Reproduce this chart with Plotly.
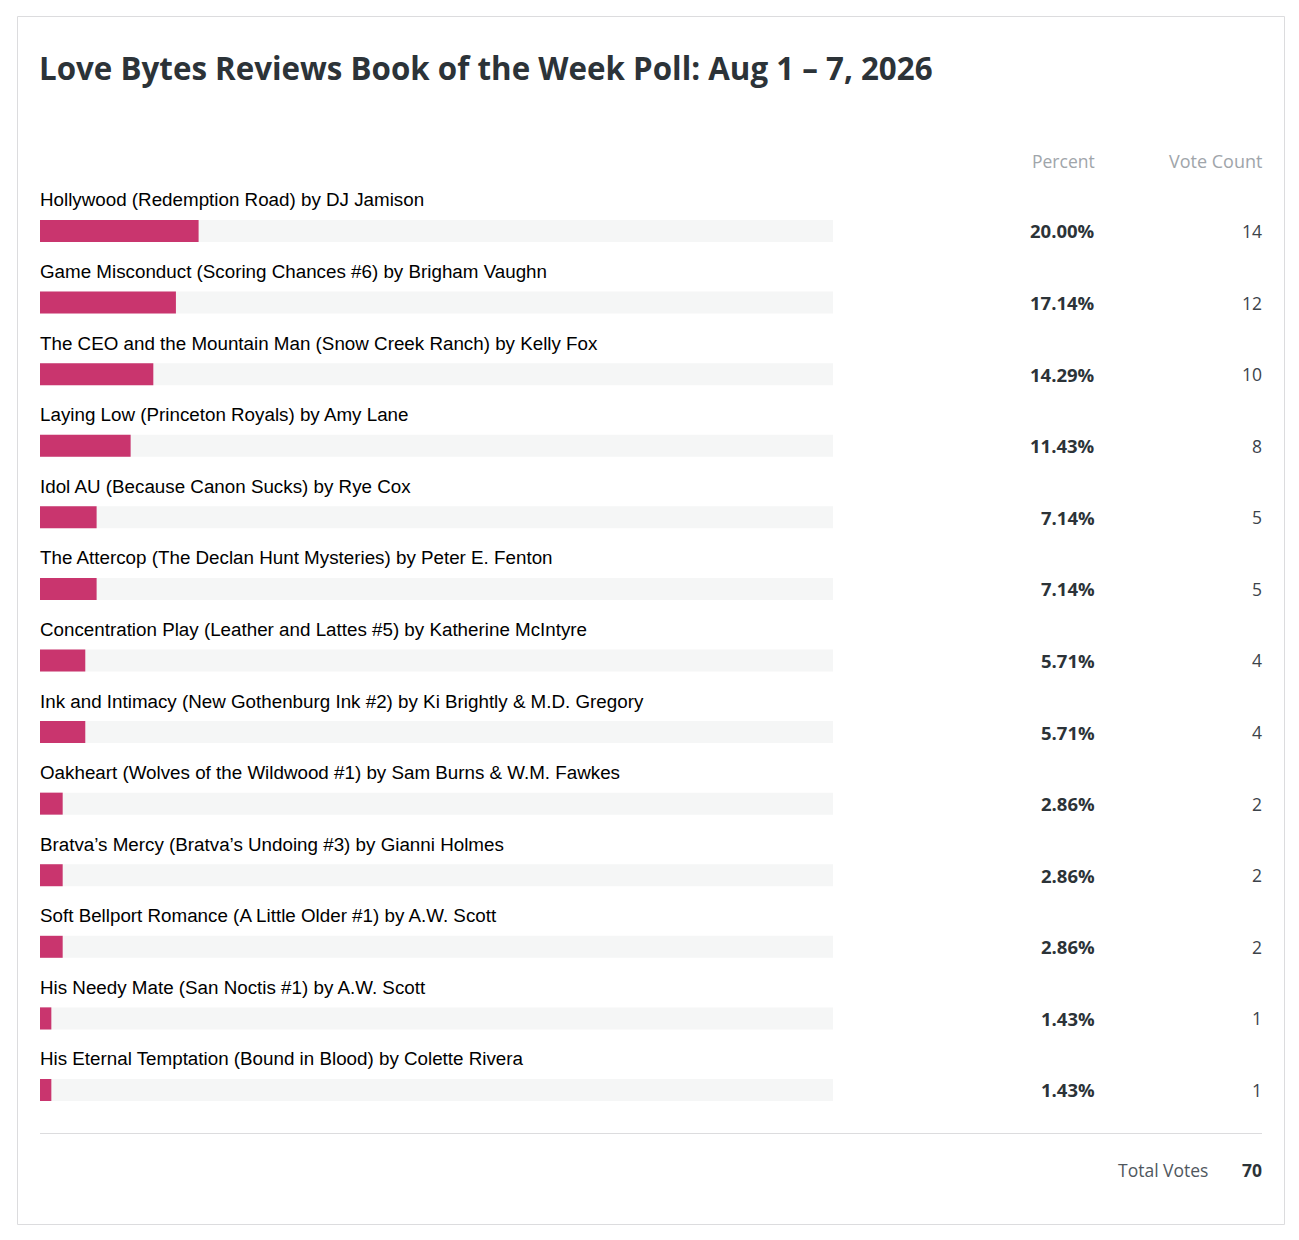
import plotly.graph_objects as go

# page is drawn with an 8px body margin, so the figure is 8px smaller
OFF = 8
W = 1299 - OFF
H = 1240 - OFF

title = "Love Bytes Reviews Book of the Week Poll: Aug 1 – 7, 2026"

books = [
    "Hollywood (Redemption Road) by DJ Jamison",
    "Game Misconduct (Scoring Chances #6) by Brigham Vaughn",
    "The CEO and the Mountain Man (Snow Creek Ranch) by Kelly Fox",
    "Laying Low (Princeton Royals) by Amy Lane",
    "Idol AU (Because Canon Sucks) by Rye Cox",
    "The Attercop (The Declan Hunt Mysteries) by Peter E. Fenton",
    "Concentration Play (Leather and Lattes #5) by Katherine McIntyre",
    "Ink and Intimacy (New Gothenburg Ink #2) by Ki Brightly & M.D. Gregory",
    "Oakheart (Wolves of the Wildwood #1) by Sam Burns & W.M. Fawkes",
    "Bratva’s Mercy (Bratva’s Undoing #3) by Gianni Holmes",
    "Soft Bellport Romance (A Little Older #1) by A.W. Scott",
    "His Needy Mate (San Noctis #1) by A.W. Scott",
    "His Eternal Temptation (Bound in Blood) by Colette Rivera",
]
percents = [20.00, 17.14, 14.29, 11.43, 7.14, 7.14, 5.71, 5.71, 2.86, 2.86, 2.86, 1.43, 1.43]
votes = [14, 12, 10, 8, 5, 5, 4, 4, 2, 2, 2, 1, 1]
total_votes = 70

BAR_COLOR = "#c9356e"
TRACK_COLOR = "#f5f6f6"
DARK = "#2c3338"
GREY = "#a0a5aa"

# pixel geometry in page coords (top-down)
row0 = 231.0
row_step = 71.58
n = len(books)
y_top = row0 - 0.5 * row_step
y_bot = row0 + (n - 0.5) * row_step
x_left = 40
x_track = 833

def px(x):
    return (x - OFF) / W

def py(y):
    return 1 - (y - OFF) / H

rows = list(range(n))
bar_w = 22 / row_step

fig = go.Figure()
fig.add_trace(go.Bar(
    y=rows,
    x=[100] * n,
    orientation="h",
    width=bar_w,
    marker_color=TRACK_COLOR,
    marker_line_width=0,
    hoverinfo="skip",
))
fig.add_trace(go.Bar(
    y=rows,
    x=percents,
    orientation="h",
    width=bar_w,
    marker_color=BAR_COLOR,
    marker_line_width=0,
))

annotations = []
label_off = 31 / row_step
for i, (name, p, v) in enumerate(zip(books, percents, votes)):
    annotations.append(dict(
        x=0, y=i - label_off, xref="x", yref="y", xshift=-2,
        text=name, showarrow=False, xanchor="left", yanchor="middle",
        font=dict(family="Liberation Sans, Arial, sans-serif", size=18.8, color="#000000"),
    ))
    annotations.append(dict(
        x=px(1095), y=i, xref="paper", yref="y", xshift=2,
        text="<b>{:.2f}%</b>".format(p), showarrow=False, xanchor="right", yanchor="middle",
        font=dict(family="Open Sans, sans-serif", size=18.5, color=DARK),
    ))
    annotations.append(dict(
        x=px(1262), y=i, xref="paper", yref="y", xshift=2,
        text=str(v), showarrow=False, xanchor="right", yanchor="middle",
        font=dict(family="Open Sans, sans-serif", size=17.5, color="#3c434a"),
    ))

annotations += [
    dict(x=px(40), y=py(68), xref="paper", yref="paper", text="<b>" + title + "</b>",
         showarrow=False, xanchor="left", yanchor="middle", xshift=-3,
         font=dict(family="Open Sans, sans-serif", size=31.3, color=DARK)),
    dict(x=px(1095), y=py(161), xref="paper", yref="paper", text="Percent", xshift=2,
         showarrow=False, xanchor="right", yanchor="middle",
         font=dict(family="Open Sans, sans-serif", size=17.5, color=GREY)),
    dict(x=px(1262), y=py(161), xref="paper", yref="paper", text="Vote Count", xshift=2,
         showarrow=False, xanchor="right", yanchor="middle",
         font=dict(family="Open Sans, sans-serif", size=18, color=GREY)),
    dict(x=px(1208), y=py(1170), xref="paper", yref="paper", text="Total Votes", xshift=2,
         showarrow=False, xanchor="right", yanchor="middle",
         font=dict(family="Open Sans, sans-serif", size=17.5, color="#50575e")),
    dict(x=px(1262), y=py(1170), xref="paper", yref="paper", text="<b>" + str(total_votes) + "</b>",
         showarrow=False, xanchor="right", yanchor="middle", xshift=2,
         font=dict(family="Open Sans, sans-serif", size=17.5, color=DARK)),
]

shapes = [
    dict(type="rect", xref="paper", yref="paper",
         x0=px(17.5), x1=px(1284.5), y0=py(16.5), y1=py(1224.5),
         line=dict(color="#dcdcde", width=1), fillcolor="rgba(0,0,0,0)", layer="below"),
    dict(type="line", xref="paper", yref="paper",
         x0=px(40), x1=px(1262), y0=py(1133.5), y1=py(1133.5),
         line=dict(color="#dcdcde", width=1)),
]

fig.update_layout(
    width=W,
    height=H,
    margin=dict(l=0, r=0, t=0, b=0),
    paper_bgcolor="white",
    plot_bgcolor="white",
    barmode="overlay",
    showlegend=False,
    annotations=annotations,
    shapes=shapes,
    xaxis=dict(domain=[px(x_left), px(x_track)], range=[0, 100], visible=False, fixedrange=True),
    yaxis=dict(domain=[py(y_bot), py(y_top)], range=[n - 0.5, -0.5], visible=False, fixedrange=True),
)

fig.write_html("out.html", config={"displayModeBar": False})
